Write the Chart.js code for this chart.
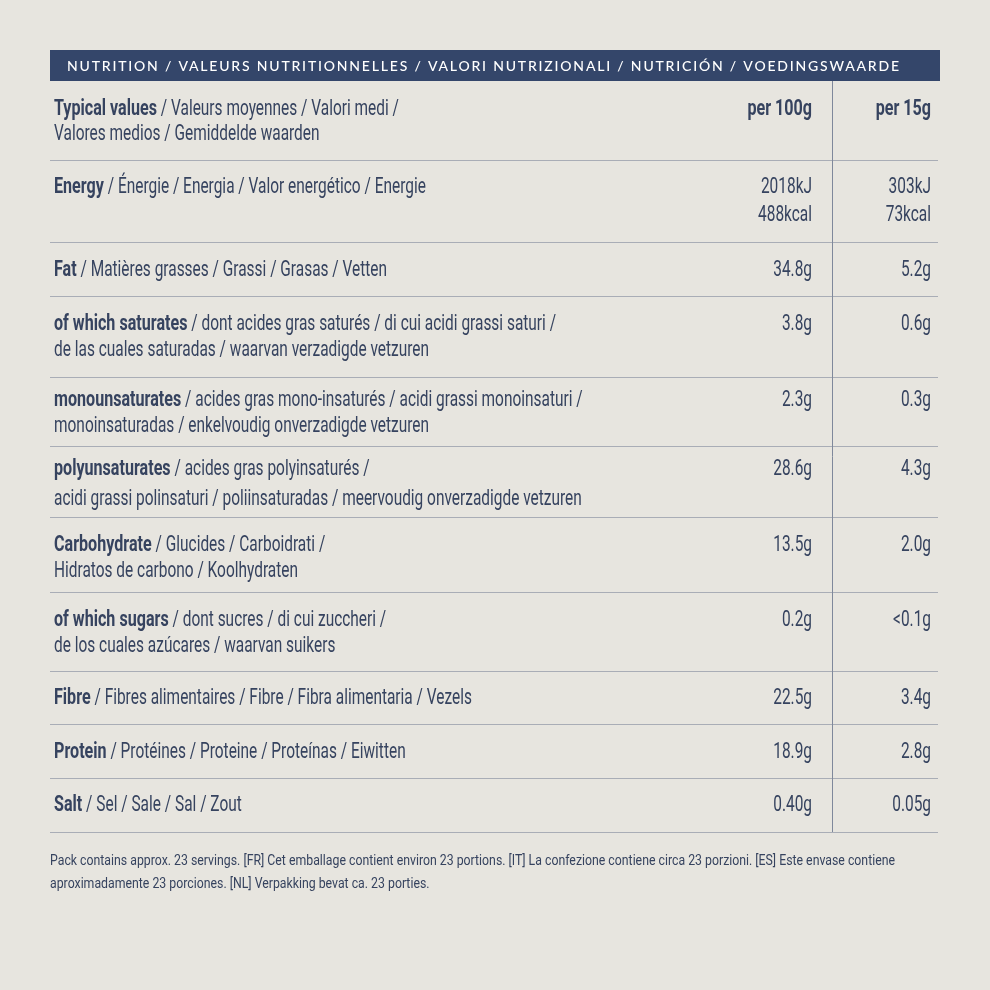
<!DOCTYPE html>
<html>
<head>
<meta charset="utf-8">
<script src="https://cdn.jsdelivr.net/npm/chart.js@4.4.1/dist/chart.umd.min.js"></script>
<style>
  html, body { margin: 0; padding: 0; background: #e7e5df; overflow: hidden; }
  #wrap { width: 990px; height: 990px; position: relative; }
</style>
</head>
<body>
<div id="wrap"><canvas id="nutrition"></canvas></div>
<script>
// --- content ---
const title = "NUTRITION / VALEURS NUTRITIONNELLES / VALORI NUTRIZIONALI / NUTRICIÓN / VOEDINGSWAARDE";
const columns = ["per 100g", "per 15g"];
const rowNames = [
  "Typical values", "Energy", "Fat", "of which saturates", "monounsaturates",
  "polyunsaturates", "Carbohydrate", "of which sugars", "Fibre", "Protein", "Salt"
];
const rowText = [
  [" / Valeurs moyennes / Valori medi /", "Valores medios / Gemiddelde waarden"],
  [" / Énergie / Energia / Valor energético / Energie"],
  [" / Matières grasses / Grassi / Grasas / Vetten"],
  [" / dont acides gras saturés / di cui acidi grassi saturi /", "de las cuales saturadas / waarvan verzadigde vetzuren"],
  [" / acides gras mono-insaturés / acidi grassi monoinsaturi /", "monoinsaturadas / enkelvoudig onverzadigde vetzuren"],
  [" / acides gras polyinsaturés /", "acidi grassi polinsaturi / poliinsaturadas / meervoudig onverzadigde vetzuren"],
  [" / Glucides / Carboidrati /", "Hidratos de carbono / Koolhydraten"],
  [" / dont sucres / di cui zuccheri /", "de los cuales azúcares / waarvan suikers"],
  [" / Fibres alimentaires / Fibre / Fibra alimentaria / Vezels"],
  [" / Protéines / Proteine / Proteínas / Eiwitten"],
  [" / Sel / Sale / Sal / Zout"]
];
// values per nutrient (rows 1..10)
const per100g = [["2018kJ", "488kcal"], ["34.8g"], ["3.8g"], ["2.3g"], ["28.6g"], ["13.5g"], ["0.2g"], ["22.5g"], ["18.9g"], ["0.40g"]];
const per15g  = [["303kJ", "73kcal"], ["5.2g"], ["0.6g"], ["0.3g"], ["4.3g"], ["2.0g"], ["<0.1g"], ["3.4g"], ["2.8g"], ["0.05g"]];
const footnote = [
  "Pack contains approx. 23 servings. [FR] Cet emballage contient environ 23 portions. [IT] La confezione contiene circa 23 porzioni. [ES] Este envase contiene",
  "aproximadamente 23 porciones. [NL] Verpakking bevat ca. 23 porties."
];

// --- layout (in scale units) ---
const rowEdges = [81, 160, 242, 296, 377, 446, 517, 592, 671, 724, 778, 832];
const lineY = [[108, 133], [186, 214], [269], [323, 349], [399, 425], [468, 498], [544, 570], [619, 645], [697], [751], [804]];
const footY = [860, 883];

const navy = "#34466a";
const ink = "#36435f";
const body = "Roboto, 'Liberation Sans', sans-serif";
const size = 21.5;

function drawParts(ctx, parts, x, y, align, sx, bsx, size) {
  let widths = parts.map(p => {
    ctx.font = (p.bold ? "700 " : "400 ") + size + "px " + body;
    return ctx.measureText(p.text).width * (p.bold ? bsx : sx);
  });
  let total = widths.reduce((a, b) => a + b, 0);
  let cx = align === "right" ? x - total : x;
  parts.forEach((p, i) => {
    ctx.save();
    ctx.font = (p.bold ? "700 " : "400 ") + size + "px " + body;
    ctx.translate(cx, y);
    ctx.scale(p.bold ? bsx : sx, 1);
    ctx.textAlign = "left";
    ctx.textBaseline = "middle";
    ctx.fillText(p.text, 0, 0);
    ctx.restore();
    cx += widths[i];
  });
}

const tablePlugin = {
  id: "nutritionTable",
  beforeDraw(chart) {
    const { ctx, scales: { x, y } } = chart;
    const X = v => x.getPixelForValue(v);
    const Y = v => y.getPixelForValue(v);
    ctx.save();
    ctx.fillStyle = "#e7e5df";
    ctx.fillRect(0, 0, chart.width, chart.height);

    // title bar
    ctx.fillStyle = navy;
    ctx.fillRect(X(50), Y(50), X(940) - X(50), Y(81) - Y(50));
    ctx.fillStyle = "#ffffff";
    ctx.font = "500 14px Lato, 'Open Sans', sans-serif";
    ctx.textBaseline = "middle";
    ctx.letterSpacing = "0px";
    let w = ctx.measureText(title).width;
    ctx.letterSpacing = ((X(899) - X(67) - w) / (title.length - 1)) + "px";
    ctx.fillText(title, X(67), Y(66.5));
    ctx.letterSpacing = "0px";

    // condensing factors: regular fitted to the energy line, bold to "Typical values"
    ctx.font = "400 " + size + "px " + body;
    const sx = (X(426) - X(104)) / ctx.measureText(rowText[1][0]).width;
    ctx.font = "700 " + size + "px " + body;
    const bsx = (X(157) - X(54)) / ctx.measureText(rowNames[0]).width;

    // rules
    ctx.strokeStyle = "#a9adb6";
    ctx.lineWidth = 1;
    rowEdges.slice(1).forEach(e => {
      ctx.beginPath();
      ctx.moveTo(X(50), Math.round(Y(e)) + 0.5);
      ctx.lineTo(X(938), Math.round(Y(e)) + 0.5);
      ctx.stroke();
    });
    ctx.strokeStyle = "#7f889b";
    ctx.beginPath();
    ctx.moveTo(Math.round(X(832)) + 0.5, Y(81));
    ctx.lineTo(Math.round(X(832)) + 0.5, Y(832));
    ctx.stroke();

    ctx.fillStyle = ink;
    rowNames.forEach((name, r) => {
      const lines = rowText[r];
      lines.forEach((t, li) => {
        const parts = li === 0 ? [{ text: name, bold: true }, { text: t }] : [{ text: t }];
        drawParts(ctx, parts, X(54), Y(lineY[r][li] + 1.5), "left", sx, bsx, size);
      });
      if (r === 0) {
        drawParts(ctx, [{ text: columns[0], bold: true }], X(812), Y(lineY[0][0] + 1.5), "right", sx, bsx, size);
        drawParts(ctx, [{ text: columns[1], bold: true }], X(931), Y(lineY[0][0] + 1.5), "right", sx, bsx, size);
      } else {
        per100g[r - 1].forEach((v, li) => drawParts(ctx, [{ text: v }], X(812), Y(lineY[r][li] + 1.5), "right", sx, bsx, size));
        per15g[r - 1].forEach((v, li) => drawParts(ctx, [{ text: v }], X(931), Y(lineY[r][li] + 1.5), "right", sx, bsx, size));
      }
    });

    // footnote
    ctx.font = "400 15px " + body;
    const fsx = (X(895) - X(50)) / ctx.measureText(footnote[0]).width;
    footnote.forEach((t, i) => drawParts(ctx, [{ text: t }], X(50), Y(footY[i] + 1), "left", fsx, fsx, 15));
    ctx.restore();
  }
};

new Chart(document.getElementById("nutrition"), {
  type: "scatter",
  data: { datasets: [] },
  options: {
    responsive: true,
    maintainAspectRatio: false,
    animation: false,
    layout: { padding: 0 },
    scales: {
      x: { type: "linear", min: 0, max: 990, display: false },
      y: { type: "linear", min: 0, max: 990, reverse: true, display: false }
    },
    plugins: { legend: { display: false }, tooltip: { enabled: false } }
  },
  plugins: [tablePlugin]
});
</script>
</body>
</html>
